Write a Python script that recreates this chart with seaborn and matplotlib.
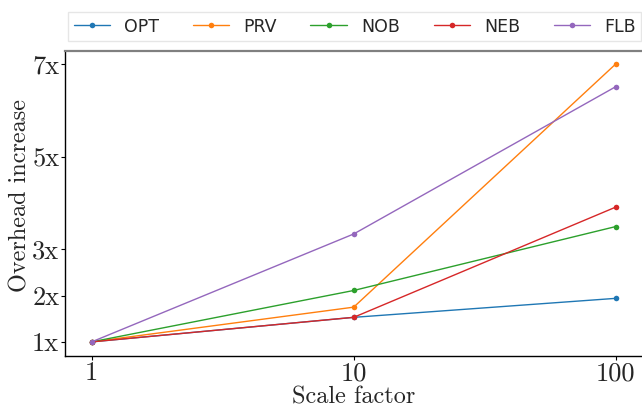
import matplotlib
matplotlib.use("Agg")
import matplotlib.pyplot as plt
import seaborn as sns
import pandas as pd

scales = [1, 10, 100]
methods = ["OPT", "PRV", "NOB", "NEB", "FLB"]
opt = [1.0, 1.53, 1.94]
prv = [1.0, 1.75, 7.0]
nob = [1.0, 2.11, 3.49]
neb = [1.0, 1.53, 3.91]
flb = [1.0, 3.33, 6.51]
yticks = [1, 2, 3, 5, 7]
yticklabels = ["1x", "2x", "3x", "5x", "7x"]
xticks = [1, 10, 100]
xticklabels = ["1", "10", "100"]

series = [opt, prv, nob, neb, flb]
rows = []
for m, vals in zip(methods, series):
    for s, v in zip(scales, vals):
        rows.append({"scale": s, "method": m, "overhead": v})
df = pd.DataFrame(rows)

sns.set_style("white")
fig = plt.figure(figsize=(6.42, 4.08), dpi=100)
ax = fig.add_axes([0.101, 0.128, 0.899, 0.748])

sns.lineplot(data=df, x="scale", y="overhead", hue="method", hue_order=methods,
             palette="tab10", marker="o", markersize=4, markeredgewidth=0,
             linewidth=1, ax=ax, legend=True)
ax.set_xscale("log")
ax.set_xlim(0.79, 126)
ax.set_ylim(0.70, 7.29)
ax.set_xticks(xticks)
ax.minorticks_off()
ax.set_xticklabels(xticklabels, fontfamily="cmr10", fontsize=19)
ax.set_yticks(yticks)
ax.set_yticklabels(yticklabels, fontfamily="cmr10", fontsize=19)
ax.tick_params(axis="both", length=3, width=0.8, color="black", pad=1, direction="out",
               bottom=True, left=True)
ax.set_xlabel("Scale factor", fontfamily="cmr10", fontsize=17.5, labelpad=1)
ax.set_ylabel("Overhead increase", fontfamily="cmr10", fontsize=17.5)
ax.yaxis.set_label_coords(-0.057, 0.525)

for side in ["left", "bottom"]:
    ax.spines[side].set_color("black")
    ax.spines[side].set_linewidth(1.0)
ax.spines["top"].set_color("#808080")
ax.spines["top"].set_linewidth(1.6)
ax.spines["right"].set_visible(False)

handles, labels = ax.get_legend_handles_labels()
ax.get_legend().remove()
fig.legend(handles, labels, loc="upper left", ncol=5,
           bbox_to_anchor=(68/642, 1 - 12/408),
           fontsize=12.5, handlelength=2.1, handletextpad=0.8, columnspacing=1.95,
           borderpad=0.32, frameon=True, fancybox=False, edgecolor="#e0e0e0",
           borderaxespad=0)

fig.savefig("out.png", dpi=100)
